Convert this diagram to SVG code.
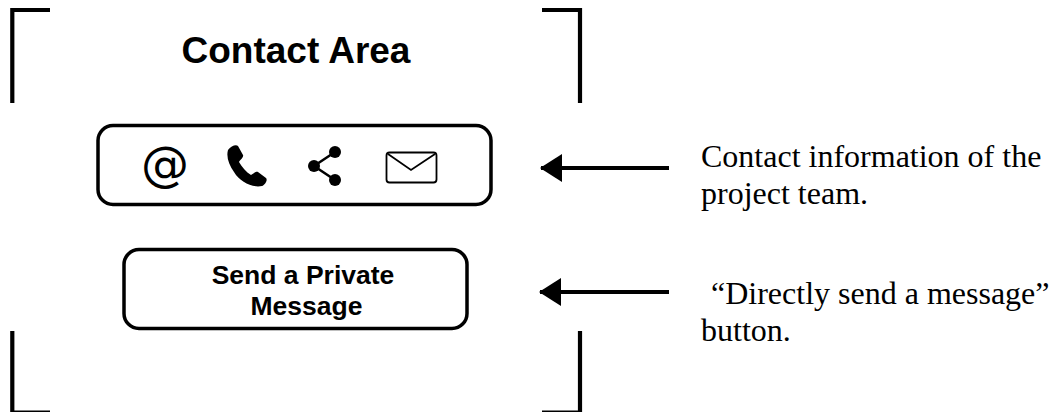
<svg xmlns="http://www.w3.org/2000/svg" width="1050" height="412" viewBox="0 0 1050 412">
<style>
.b{fill:none;stroke:#000;stroke-width:4.200}
.box{fill:#fff;stroke:#000;stroke-width:3.500}
.s{font-family:"Liberation Sans",Arial,sans-serif;font-weight:bold;fill:#000}
.r{font-family:"Liberation Serif","Times New Roman",serif;font-size:32px;fill:#000}
.c{fill:none;stroke:#000;stroke-width:4}
</style>
<defs><marker id="a" markerUnits="userSpaceOnUse" markerWidth="24" markerHeight="30" refX="22" refY="14" orient="auto"><path d="M23 14L1 0V28Z" fill="#000"/></marker></defs>
<g id="frame">
<path class="b" d="M50 10H12.300V103"/>
<path class="b" d="M542 10H580V103"/>
<path class="b" d="M12.300 331V412.500H50"/>
<path class="b" d="M580 331V412.500H542"/>
</g>
<g id="title"><text class="s" x="296" y="63" font-size="37" text-anchor="middle">Contact Area</text></g>
<g id="contact-bar">
<rect class="box" x="98" y="125.500" width="393" height="79" rx="15"/>
<text x="165" y="181" font-family="'DejaVu Sans',sans-serif" font-size="48" text-anchor="middle" fill="#000">@</text>
<path d="M228 150C231 146 236 144 238 146L243 155C244 157 240 160 239 162C242 167 246 172 251 175C253 174 256 171 258 172L266 178C268 180 265 185 262 186C252 188 240 182 234 172C229 165 226 157 228 150Z" fill="#000"/>
<path d="M335 152L314 166L335 180" fill="none" stroke="#000" stroke-width="2.500"/>
<circle cx="335" cy="152" r="6"/><circle cx="314" cy="166" r="6"/><circle cx="335" cy="180" r="6"/>
<rect x="386.500" y="152.500" width="50" height="30" rx="3" fill="none" stroke="#000" stroke-width="1.800"/>
<path d="M388 154L411 170L435 154" fill="none" stroke="#000" stroke-width="1.800"/>
</g>
<g id="send-button">
<rect class="box" x="124" y="249.500" width="343" height="79" rx="15"/>
<text class="s" font-size="26.500" x="303" y="283.500" text-anchor="middle">Send a Private</text>
<text class="s" font-size="26.500" x="306.500" y="314.500" text-anchor="middle">Message</text>
</g>
<g id="connectors">
<path class="c" d="M669 168H541" marker-end="url(#a)"/>
<path class="c" d="M669 292H540" marker-end="url(#a)"/>
</g>
<g id="note-contact">
<text class="r" x="701" y="167">Contact information of the</text>
<text class="r" x="701" y="204">project team.</text>
</g>
<g id="note-send">
<text class="r" x="703" y="304" xml:space="preserve"> “Directly send a message”</text>
<text class="r" x="701" y="341">button.</text>
</g>
</svg>
